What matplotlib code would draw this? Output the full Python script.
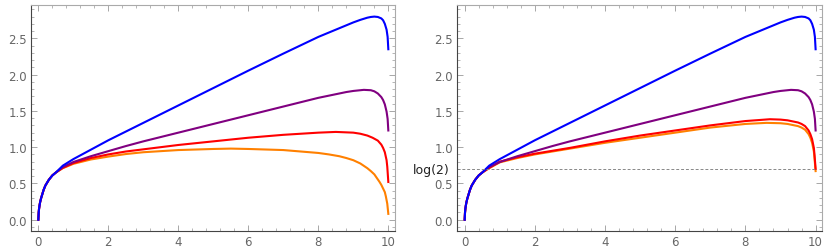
import numpy as np
import matplotlib
matplotlib.use("Agg")
import matplotlib.pyplot as plt
from matplotlib.ticker import MultipleLocator

# values
x_start = [0, 0.01, 0.02, 0.035, 0.05, 0.075, 0.1, 0.15, 0.2, 0.3, 0.4, 0.5]
y_start = [0, 0.10, 0.15, 0.20, 0.24, 0.29, 0.33, 0.41, 0.47, 0.55, 0.61, 0.65]

blue_x = [0.7, 1.0, 1.25, 1.5, 1.75, 2, 2.5, 3, 4, 5, 6, 7, 8, 8.5, 9, 9.2, 9.4, 9.5,
          9.6, 9.7, 9.8, 9.85, 9.9, 9.95, 9.98, 10]
blue_y = [0.745, 0.835, 0.90, 0.965, 1.03, 1.095, 1.215, 1.335, 1.575, 1.815, 2.055, 2.29,
          2.52, 2.62, 2.72, 2.755, 2.785, 2.795, 2.80, 2.795, 2.775, 2.75, 2.70, 2.62, 2.52,
          2.35]

purple_x = [0.7, 1.0, 1.5, 2, 2.5, 3, 4, 5, 6, 7, 8, 8.5, 8.8, 9, 9.3, 9.5, 9.6, 9.7,
            9.8, 9.85, 9.9, 9.95, 9.98, 10]
purple_y = [0.725, 0.795, 0.875, 0.945, 1.015, 1.08, 1.20, 1.32, 1.44, 1.56, 1.68, 1.73,
            1.76, 1.775, 1.79, 1.785, 1.77, 1.74, 1.69, 1.65, 1.59, 1.49, 1.39, 1.23]

red_left_x = [0.7, 1.0, 1.5, 2, 2.5, 3, 4, 5, 6, 7, 8, 8.5, 9, 9.2, 9.4, 9.55, 9.7, 9.8,
              9.85, 9.9, 9.95, 9.97, 10]
red_left_y = [0.715, 0.78, 0.85, 0.90, 0.94, 0.97, 1.03, 1.08, 1.13, 1.17, 1.20, 1.21, 1.20,
              1.185, 1.16, 1.13, 1.09, 1.035, 0.99, 0.93, 0.82, 0.73, 0.52]

orange_left_x = [0.7, 1.0, 1.5, 2, 2.5, 3, 4, 5, 5.5, 6, 7, 7.5, 8, 8.3, 8.6, 8.8, 9, 9.2,
                 9.4, 9.5, 9.6, 9.75, 9.8, 9.85, 9.9, 9.93, 9.97, 10]
orange_left_y = [0.71, 0.77, 0.83, 0.87, 0.905, 0.93, 0.96, 0.975, 0.98, 0.975, 0.96, 0.94,
                 0.92, 0.90, 0.875, 0.85, 0.82, 0.775, 0.71, 0.67, 0.625, 0.52, 0.48, 0.43,
                 0.38, 0.32, 0.22, 0.08]

red_right_x = [0.7, 1.0, 1.5, 2, 2.5, 3, 4, 5, 6, 7, 8, 8.7, 9, 9.2, 9.5, 9.6, 9.7, 9.8,
               9.85, 9.9, 9.95, 9.97, 10]
red_right_y = [0.715, 0.80, 0.86, 0.91, 0.95, 0.99, 1.08, 1.16, 1.23, 1.30, 1.36, 1.385,
               1.38, 1.37, 1.34, 1.32, 1.29, 1.23, 1.18, 1.11, 0.99, 0.89, 0.70]

orange_right_x = [0.7, 1.0, 1.5, 2, 2.5, 3, 4, 5, 6, 7, 8, 8.6, 9, 9.2, 9.5, 9.6, 9.7, 9.8,
                  9.85, 9.9, 9.95, 9.97, 10]
orange_right_y = [0.71, 0.79, 0.85, 0.90, 0.94, 0.98, 1.06, 1.13, 1.20, 1.27, 1.32, 1.335,
                  1.33, 1.32, 1.29, 1.27, 1.24, 1.18, 1.13, 1.06, 0.94, 0.84, 0.67]

log2 = np.log(2)


def curve(xs, ys):
    return np.array(x_start + xs), np.array(y_start + ys)


def style_axes(ax):
    ax.set_xlim(-0.21, 10.19)
    ax.set_ylim(-0.156, 2.96)
    ax.xaxis.set_major_locator(MultipleLocator(2))
    ax.xaxis.set_minor_locator(MultipleLocator(0.4))
    ax.yaxis.set_major_locator(MultipleLocator(0.5))
    ax.yaxis.set_minor_locator(MultipleLocator(0.1))
    ax.tick_params(which="both", direction="in", top=True, right=True,
                   colors="#999999", labelcolor="#666666", labelsize=8.5, pad=3)
    ax.tick_params(which="major", length=4, width=0.6)
    ax.tick_params(which="minor", length=2, width=0.5)
    for side in ["top", "right"]:
        ax.spines[side].set_color("#aaaaaa")
    for side in ["left", "bottom"]:
        ax.spines[side].set_color("#444444")
    for s in ax.spines.values():
        s.set_linewidth(0.8)


fig = plt.figure(figsize=(8.31, 2.51), dpi=100)
ax1 = fig.add_axes([0.0373, 0.0757, 0.4380, 0.9004])
ax2 = fig.add_axes([0.5503, 0.0757, 0.4392, 0.9004])

lw = 1.5
panels = [
    (ax1, (red_left_x, red_left_y), (orange_left_x, orange_left_y)),
    (ax2, (red_right_x, red_right_y), (orange_right_x, orange_right_y)),
]
for ax, red, orange in panels:
    style_axes(ax)
    ax.plot(*curve(*orange), color="#FF8000", lw=lw, solid_joinstyle="round")
    ax.plot(*curve(*red), color="#FF0000", lw=lw, solid_joinstyle="round")
    ax.plot(*curve(purple_x, purple_y), color="#800080", lw=lw, solid_joinstyle="round")
    ax.plot(*curve(blue_x, blue_y), color="#0000FF", lw=lw, solid_joinstyle="round")

# reference line at log(2) on the right panel
ax2.hlines(log2, ax2.get_xlim()[0], 10, colors="#888888", linestyles=(0, (3, 2)), lw=0.7)
ax2.text(-0.02, log2, "log(2)", transform=ax2.get_yaxis_transform(),
         ha="right", va="center", fontsize=9, color="#222222")

fig.savefig("out.png", dpi=100)
